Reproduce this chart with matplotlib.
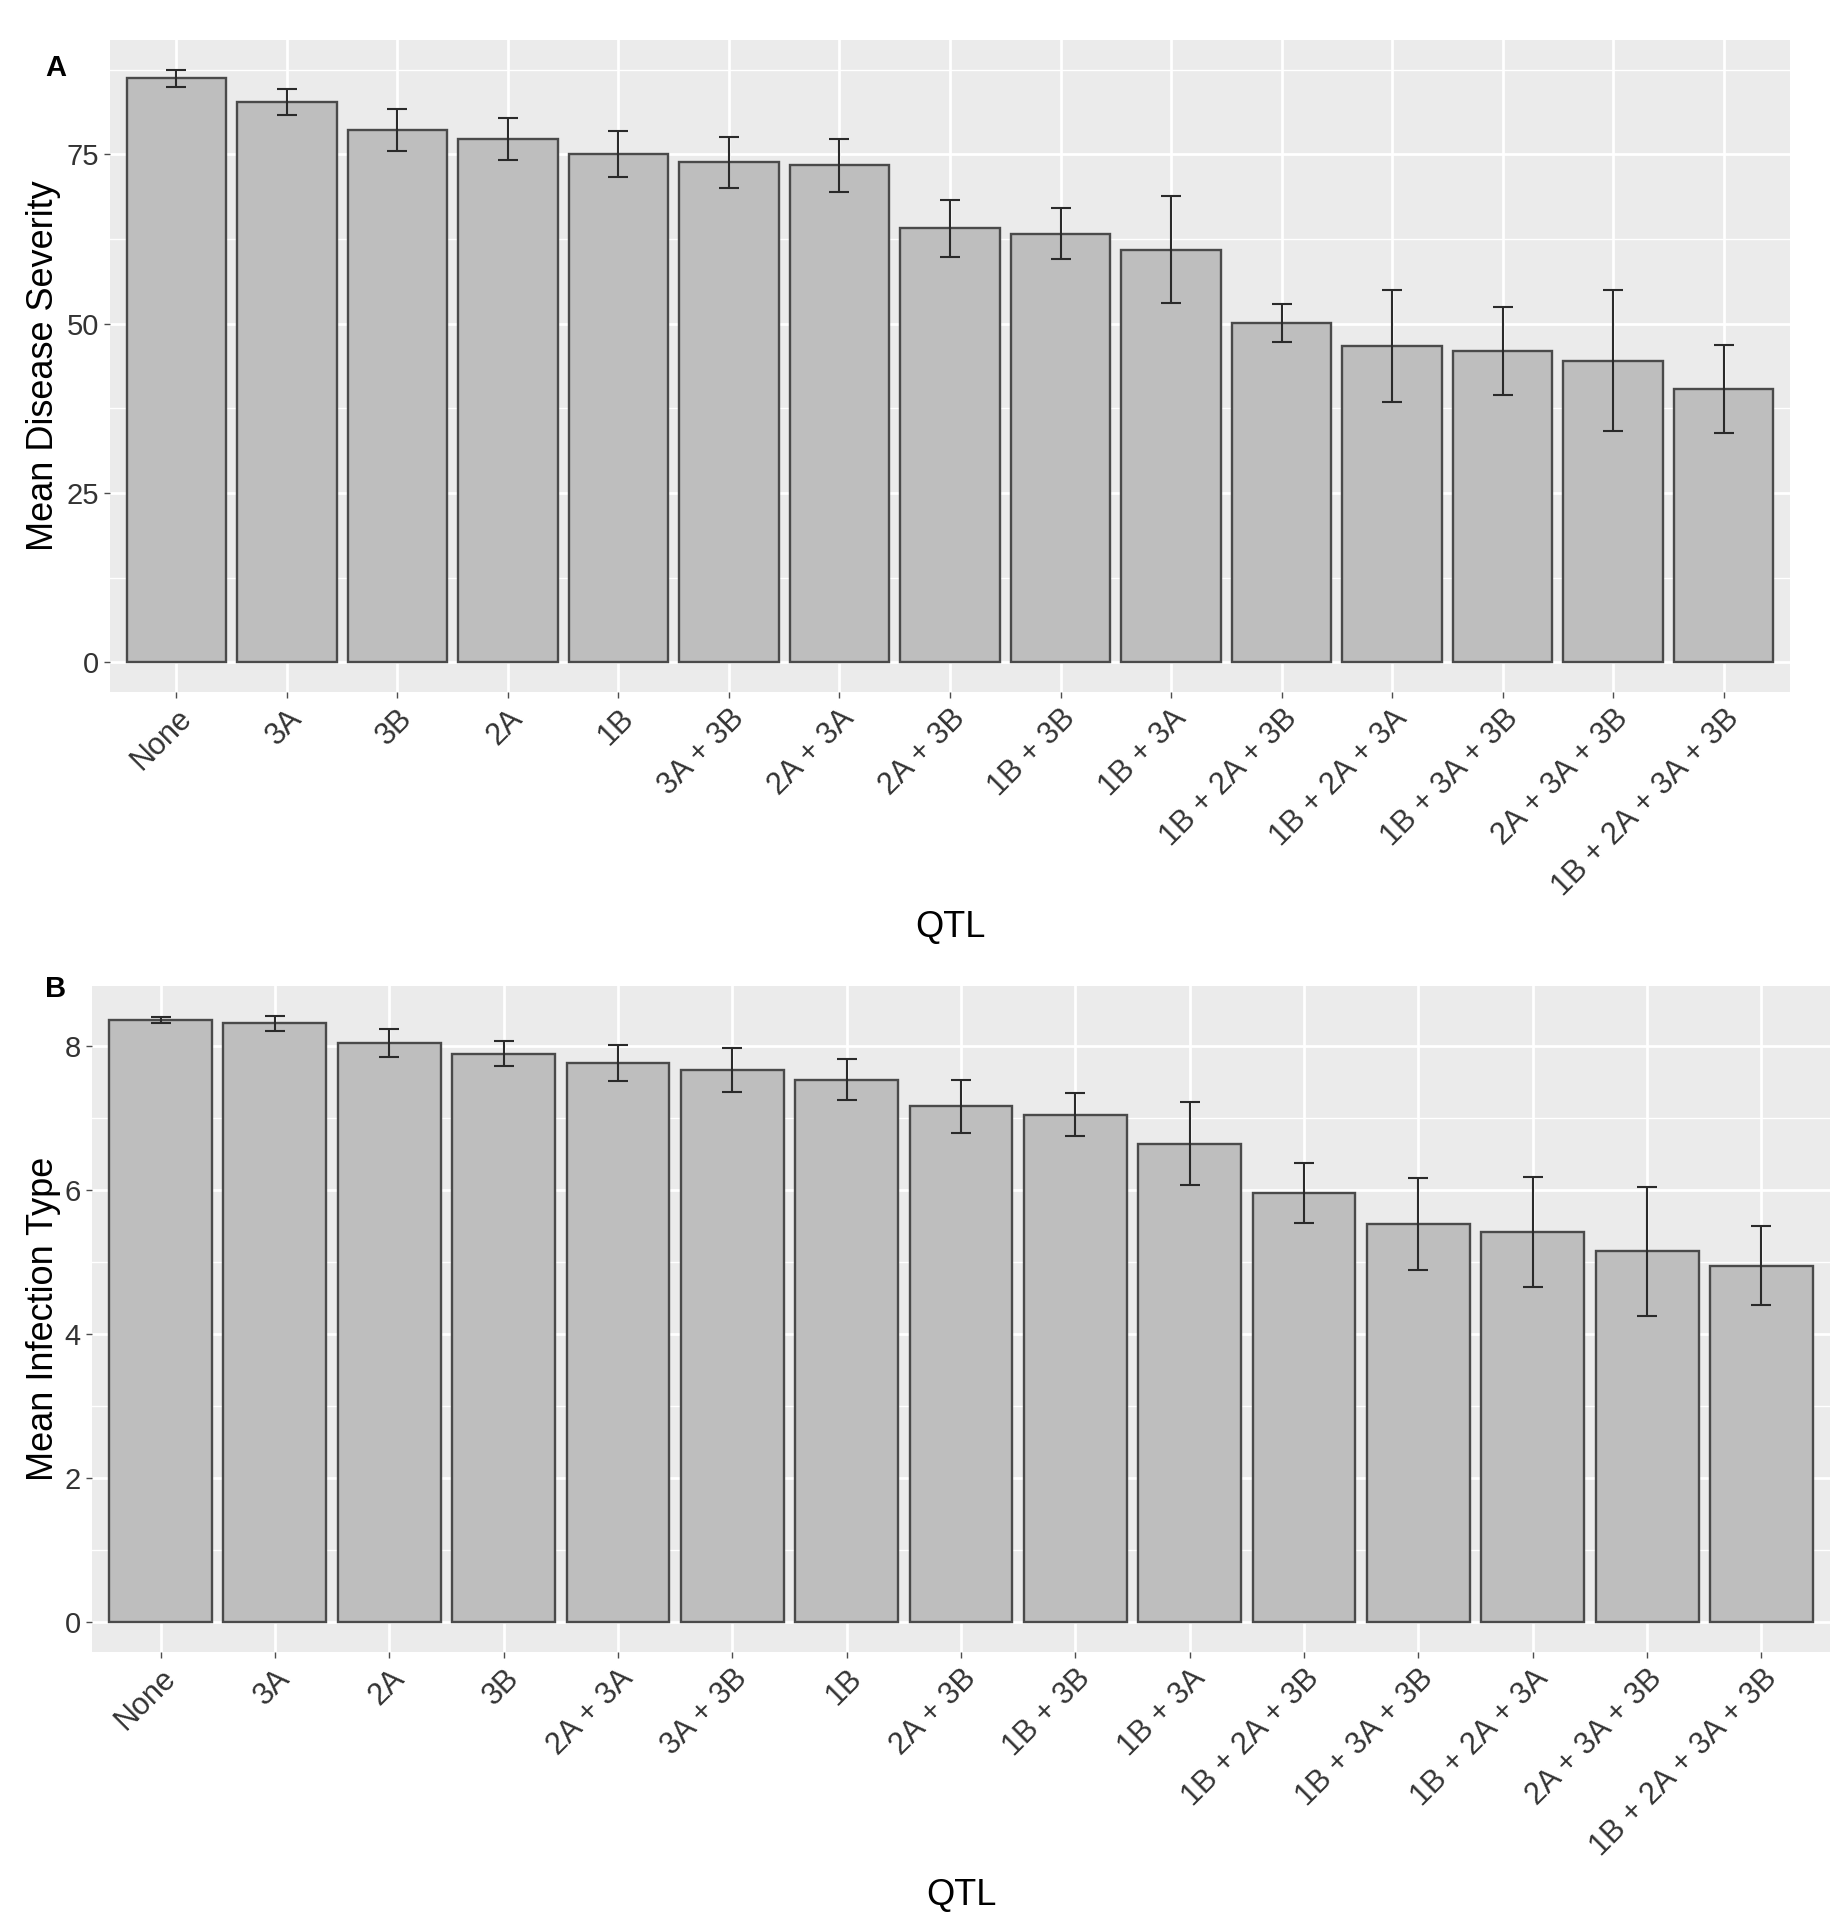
import matplotlib
matplotlib.use("Agg")
import matplotlib.pyplot as plt
import numpy as np

plt.rcParams['font.family'] = ['Liberation Sans', 'DejaVu Sans']

# Panel A data
qtl_a = ["None", "3A", "3B", "2A", "1B", "3A + 3B", "2A + 3A", "2A + 3B", "1B + 3B",
         "1B + 3A", "1B + 2A + 3B", "1B + 2A + 3A", "1B + 3A + 3B", "2A + 3A + 3B",
         "1B + 2A + 3A + 3B"]
severity_mean = [86.2, 82.7, 78.6, 77.3, 75.1, 73.8, 73.4, 64.1, 63.3, 60.9, 50.1, 46.7, 45.9, 44.5, 40.3]
severity_err = [1.3, 1.9, 3.1, 3.1, 3.4, 3.8, 3.9, 4.2, 3.8, 7.9, 2.8, 8.3, 6.5, 10.4, 6.5]

# Panel B data
qtl_b = ["None", "3A", "2A", "3B", "2A + 3A", "3A + 3B", "1B", "2A + 3B", "1B + 3B",
         "1B + 3A", "1B + 2A + 3B", "1B + 3A + 3B", "1B + 2A + 3A", "2A + 3A + 3B",
         "1B + 2A + 3A + 3B"]
infection_mean = [8.37, 8.32, 8.05, 7.90, 7.77, 7.67, 7.54, 7.17, 7.05, 6.65, 5.96, 5.53, 5.42, 5.15, 4.95]
infection_err = [0.04, 0.10, 0.19, 0.17, 0.25, 0.31, 0.28, 0.37, 0.30, 0.58, 0.42, 0.64, 0.76, 0.90, 0.55]

W, H = 1847, 1921
fig = plt.figure(figsize=(W / 100, H / 100), dpi=100)

def fr(x0, y0, x1, y1):
    return [x0 / W, 1 - y1 / H, (x1 - x0) / W, (y1 - y0) / H]

def panel(rect, cats, means, errs, ylabel, major, minor, label, label_xy, qtl_y, ylab_x):
    ax = fig.add_axes(rect)
    ax.set_facecolor('#EBEBEB')
    x = np.arange(len(cats))
    means = np.array(means)
    errs = np.array(errs)
    R = (means + errs).max()
    ax.set_ylim(-0.05 * R, 1.05 * R)
    ax.set_xlim(-0.6, len(cats) - 0.4)
    ax.set_yticks(major)
    ax.set_yticks(minor, minor=True)
    ax.set_xticks(x)
    ax.grid(True, which='major', color='white', linewidth=2.0)
    ax.grid(True, which='minor', axis='y', color='white', linewidth=1.0)
    ax.set_axisbelow(True)
    for s in ax.spines.values():
        s.set_visible(False)
    ax.bar(x, means, width=0.9, color='#BEBEBE', edgecolor='#4A4A4A', linewidth=1.7, zorder=2)
    ax.errorbar(x, means, yerr=errs, fmt='none', ecolor='#2A2A2A', elinewidth=1.5,
                capsize=7.5, capthick=1.5, zorder=3)
    ax.set_xticklabels(cats, rotation=45, ha='right', va='top', rotation_mode='anchor',
                       color='#1A1A1A')
    ax.tick_params(axis='y', which='minor', length=0)
    ax.tick_params(axis='both', which='major', length=4, width=1, color='#4D4D4D',
                   labelsize=21, labelcolor='#333333', pad=4)
    for t in ax.get_xticklabels():
        t.set_fontsize(22)
    ax.set_ylabel(ylabel, fontsize=26, color='black')
    ax.yaxis.set_label_coords((ylab_x - rect[0] * W) / (rect[2] * W), 0.5)
    ax.set_xlabel('QTL', fontsize=26, color='black')
    ax.xaxis.set_label_coords(0.5, 1 - (qtl_y - (1 - rect[1] - rect[3]) * H) / (rect[3] * H))
    ax.xaxis.label.set_va('center')
    ax.yaxis.label.set_va('center')
    fig.text(label_xy[0] / W, 1 - label_xy[1] / H, label, fontsize=21, fontweight='bold',
             ha='center', va='center')
    return ax

panel(fr(110, 40, 1790, 692), qtl_a, severity_mean, severity_err, 'Mean Disease Severity',
      [0, 25, 50, 75], [12.5, 37.5, 62.5, 87.5], 'A', (56, 68), 928, 44)
panel(fr(92, 986, 1830, 1652), qtl_b, infection_mean, infection_err, 'Mean Infection Type',
      [0, 2, 4, 6, 8], [1, 3, 5, 7], 'B', (56, 989), 1895, 44)

fig.savefig('out.png', dpi=100, facecolor='white')
